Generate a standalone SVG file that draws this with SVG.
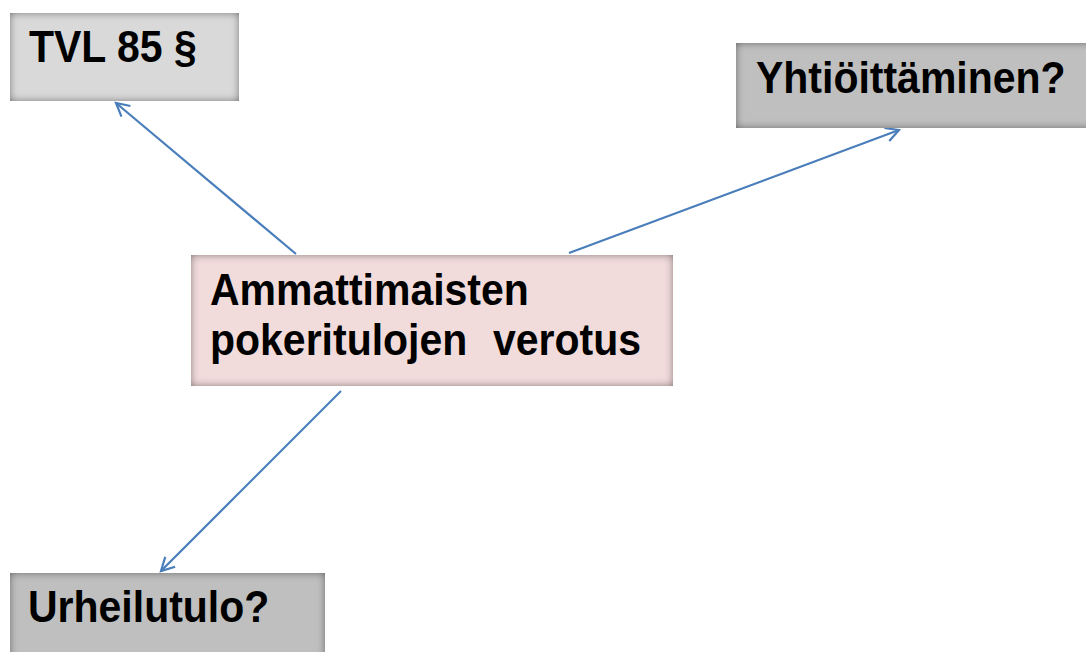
<svg xmlns="http://www.w3.org/2000/svg" width="1086" height="652" viewBox="0 0 1086 652">
<defs>
<style>
.t{font-family:"Liberation Sans",Arial,sans-serif;font-weight:bold;font-size:41px;fill:#000}
.c{stroke:#4a7ebb;stroke-width:2.2;fill:none}
</style>
<filter id="inner" x="-0.2" y="-0.2" width="1.4" height="1.4">
<feFlood flood-color="#000" flood-opacity="1"/>
<feComposite in2="SourceAlpha" operator="out"/>
<feGaussianBlur stdDeviation="4.5"/>
<feComposite in2="SourceAlpha" operator="in" result="sh"/>
<feComponentTransfer in="sh" result="sh2"><feFuncA type="linear" slope="0.85"/></feComponentTransfer>
<feMerge><feMergeNode in="SourceGraphic"/><feMergeNode in="sh2"/></feMerge>
</filter>
<marker id="arr" markerWidth="20" markerHeight="20" refX="14" refY="8" orient="auto" markerUnits="userSpaceOnUse" viewBox="0 0 20 16">
<path d="M1,1 L14,8 L1,15" fill="none" stroke="#4a7ebb" stroke-width="2.2" stroke-linejoin="miter"/>
</marker>
</defs>
<rect width="1086" height="652" fill="#fff"/>
<g id="connectors">
<line class="c" x1="296" y1="254" x2="116" y2="103" marker-end="url(#arr)"/>
<line class="c" x1="569" y1="253" x2="899" y2="130" marker-end="url(#arr)"/>
<line class="c" x1="341" y1="391" x2="161" y2="571" marker-end="url(#arr)"/>
</g>
<g id="tvl">
<rect x="10" y="13" width="229" height="88" fill="#d9d9d9" filter="url(#inner)"/>
<text class="t" transform="translate(29,62) scale(1,1.1)">TVL 85 §</text>
</g>
<g id="yhtio">
<rect x="736" y="43" width="360" height="85" fill="#bfbfbf" filter="url(#inner)"/>
<text class="t" transform="translate(756,93) scale(1,1.1)">Yhtiöittäminen?</text>
</g>
<g id="center">
<rect x="191" y="255" width="482" height="131" fill="#f2dcdb" filter="url(#inner)"/>
<text class="t" transform="translate(210,305) scale(1,1.1)">Ammattimaisten</text>
<text class="t" transform="translate(210,355) scale(1,1.1)"><tspan x="0">pokeritulojen</tspan><tspan x="283">verotus</tspan></text>
</g>
<g id="urheilu">
<rect x="10" y="573" width="315" height="95" fill="#bfbfbf" filter="url(#inner)"/>
<text class="t" transform="translate(28,622) scale(1,1.1)">Urheilutulo?</text>
</g>
</svg>
